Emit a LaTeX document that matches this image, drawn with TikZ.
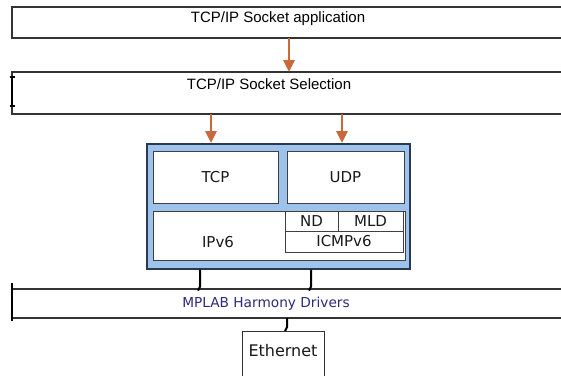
\documentclass[tikz,border=0pt]{standalone}
\usepackage{fontspec}
\setmainfont{DejaVu Sans}
\newfontfamily\arialfont{Liberation Sans}
\usetikzlibrary{arrows.meta, positioning}

\definecolor{arrowOrange}{HTML}{C8693C}
\definecolor{stackBlue}{HTML}{9DC3EC}
\definecolor{stackEdge}{HTML}{2B3950}
\definecolor{drvText}{HTML}{2D2A7A}

\begin{document}
\begin{tikzpicture}[
    x=1pt, y=-1pt,
    layer/.style={rectangle, draw=black!80, line width=1.2pt, fill=white,
                  anchor=north west, inner sep=0pt, outer sep=0pt},
    cell/.style={rectangle, draw=black!75, line width=0.9pt, fill=white,
                 anchor=north west, inner sep=0pt, outer sep=0pt,
                 font=\fontsize{15}{18}\selectfont, text=black!90},
    lbl/.style={inner sep=0pt, font=\fontsize{15}{18}\selectfont, text=black!90},
    toplbl/.style={inner sep=0pt, font=\arialfont\fontsize{15}{18}\selectfont},
    arrow/.style={-{Triangle[length=12pt, width=11pt]}, line width=2.8pt, draw=arrowOrange},
    conn/.style={line width=2pt, black}
]
\clip (0,0) rectangle (561,375);
\fill[white] (0,0) rectangle (561,375);

% Application layers
\node[layer, minimum width=560pt, minimum height=31pt] (app) at (12,7) {};
\node[toplbl] (appText) at (278,19) {TCP/IP Socket application};
\node[layer, minimum width=560pt, minimum height=42pt] (sel) at (12,72) {};
\node[toplbl] (selText) at (269,84) {TCP/IP Socket Selection};
\draw[line width=1.6pt, {Bar[width=5pt]}-{Bar[width=5pt]}]
    ([yshift=-4pt]sel.north west) -- ([yshift=7pt]sel.south west);

% Stack
\node[rectangle, draw=stackEdge, line width=1.6pt, fill=stackBlue, anchor=north west,
      minimum width=263pt, minimum height=125pt] (stack) at (146,143) {};
\node[cell, minimum width=125pt, minimum height=52pt] (tcp) at (153,151) {TCP};
\node[cell, minimum width=117pt, minimum height=52pt, right=9pt of tcp] (udp) {UDP};
\node[cell, minimum width=252pt, minimum height=49pt] (ip) at (153,211) {};
\node[lbl] (ipText) at (218,242) {IPv6};
\node[cell, minimum width=53pt, minimum height=20pt] (nd) at (285,211) {ND};
\node[cell, minimum width=65pt, minimum height=20pt, right=0pt of nd] (mld) {MLD};
\node[cell, minimum width=118pt, minimum height=21pt] (icmp) at (nd.south west) {ICMPv6};

% Drivers
\node[layer, minimum width=560pt, minimum height=29pt] (drv) at (12,289) {};
\node[lbl, text=drvText, font=\fontsize{13.7}{16}\selectfont] (drvText) at (266,304) {MPLAB Harmony Drivers};
\draw[line width=2.4pt] ([yshift=6pt]drv.north west) -- ([yshift=-3pt]drv.south west);

% Ethernet
\node[layer, line width=0.9pt, minimum width=82pt, minimum height=60pt] (eth) at (242,331) {};
\node[lbl, font=\fontsize{16}{19}\selectfont] (ethText) at (283,351) {Ethernet};

% Arrows
\coordinate (appOut) at (289,0);
\coordinate (tcpIn) at (211,0);
\coordinate (udpIn) at (342,0);
\draw[arrow] (appOut |- app.south) -- (appOut |- sel.north);
\draw[arrow] (tcpIn |- sel.south) -- (tcpIn |- stack.north);
\draw[arrow] (udpIn |- sel.south) -- (udpIn |- stack.north);

% Connectors to drivers
\coordinate (ipOut) at (200,0);
\coordinate (icmpOut) at (311,0);
\coordinate (ethIn) at (287,0);
\draw[conn] (ipOut |- stack.south) -- ++(0,17) -- ++(-2,4);
\draw[conn] (icmpOut |- stack.south) -- ++(0,17) -- ++(-2,4);
\draw[conn] (ethIn |- drv.south) -- ++(0,9) -- ++(-2,4);

\end{tikzpicture}
\end{document}
